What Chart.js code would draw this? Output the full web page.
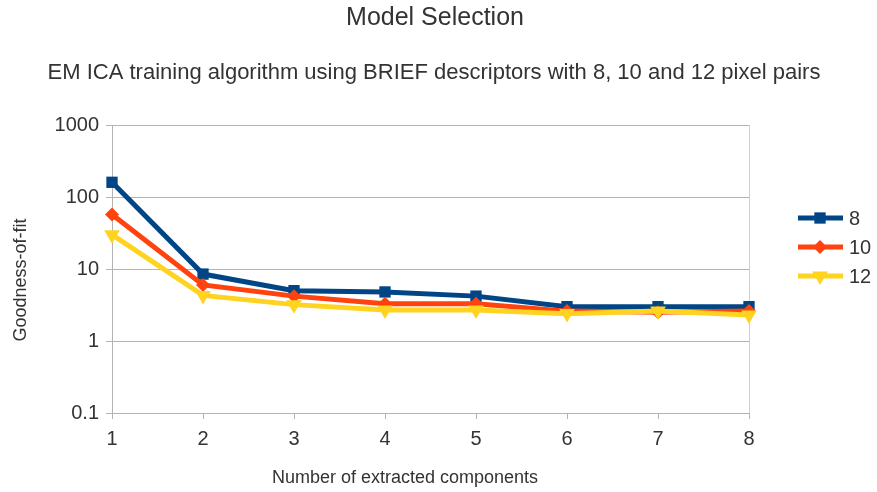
<!DOCTYPE html>
<html>
<head>
<meta charset="utf-8">
<script src="https://cdn.jsdelivr.net/npm/chart.js@4"></script>
<style>
    html, body { margin: 0; padding: 0; background: #fff; }
    #wrap { width: 877px; height: 492px; position: relative; }
</style>
</head>
<body>
<div id="wrap"><canvas id="modelChart"></canvas></div>
<script>
// Goodness-of-fit per number of extracted components
const components = ['1', '2', '3', '4', '5', '6', '7', '8'];
const pairs8 = [160, 8.5, 5.0, 4.8, 4.2, 3.0, 3.0, 3.0];
const pairs10 = [57, 6.0, 4.2, 3.3, 3.3, 2.6, 2.5, 2.6];
const pairs12 = [30, 4.3, 3.2, 2.7, 2.7, 2.4, 2.6, 2.3];
const yTicks = [0.1, 1, 10, 100, 1000];

const FONT = '"Liberation Sans", Arial, sans-serif';
const TEXT = '#333333';
const GRID = '#b3b3b3';

// Titles, axis titles and the line+marker legend on the right
const decorPlugin = {
    id: 'decor',
    afterDraw(chart) {
        const ctx = chart.ctx;
        ctx.save();
        ctx.fillStyle = TEXT;
        ctx.textAlign = 'center';
        ctx.textBaseline = 'middle';
        ctx.font = '25px ' + FONT;
        ctx.fillText('Model Selection', 435, 18);
        ctx.font = '22px ' + FONT;
        ctx.fillText('EM ICA training algorithm using BRIEF descriptors with 8, 10 and 12 pixel pairs', 434, 73);

        ctx.font = '18px ' + FONT;
        ctx.fillText('Number of extracted components', 405, 478);
        ctx.save();
        ctx.translate(21, 280);
        ctx.rotate(-Math.PI / 2);
        ctx.fillText('Goodness-of-fit', 0, 0);
        ctx.restore();

        const rows = [218, 247, 276];
        chart.data.datasets.forEach((ds, i) => {
            const y = rows[i];
            ctx.strokeStyle = ds.borderColor;
            ctx.lineWidth = 5;
            ctx.beginPath();
            ctx.moveTo(798, y);
            ctx.lineTo(843, y);
            ctx.stroke();
            ctx.fillStyle = ds.borderColor;
            Chart.helpers.drawPoint(ctx, {
                pointStyle: ds.pointStyle,
                radius: ds.pointRadius,
                rotation: ds.pointRotation || 0
            }, 820, y);
            ctx.fillStyle = TEXT;
            ctx.textAlign = 'left';
            ctx.font = '20px ' + FONT;
            ctx.fillText(ds.label, 849, y + 1);
        });
        ctx.restore();
    }
};

new Chart(document.getElementById('modelChart'), {
    type: 'line',
    data: {
        labels: components,
        datasets: [
            {
                label: '8', data: pairs8, order: 3,
                borderColor: '#004586', backgroundColor: '#004586',
                borderWidth: 5, pointStyle: 'rect', pointRadius: 8,
                pointBorderWidth: 0
            },
            {
                label: '10', data: pairs10, order: 2,
                borderColor: '#ff420e', backgroundColor: '#ff420e',
                borderWidth: 5, pointStyle: 'rectRot', pointRadius: 7,
                pointBorderWidth: 0
            },
            {
                label: '12', data: pairs12, order: 1,
                borderColor: '#ffd320', backgroundColor: '#ffd320',
                borderWidth: 5, pointStyle: 'triangle', pointRotation: 180, pointRadius: 9,
                pointBorderWidth: 0
            }
        ]
    },
    options: {
        responsive: true,
        maintainAspectRatio: false,
        animation: false,
        layout: { padding: { top: 125, left: 0, right: 128, bottom: 0 } },
        plugins: {
            legend: { display: false },
            title: { display: false },
            tooltip: { enabled: false }
        },
        scales: {
            x: {
                offset: false,
                grid: {
                    color: ctx => (ctx.index === components.length - 1 ? '#d0d0d0' : 'transparent'),
                    tickColor: GRID,
                    tickLength: 6,
                    drawOnChartArea: true
                },
                border: { color: GRID, width: 1 },
                ticks: { color: TEXT, font: { family: FONT, size: 20 }, padding: 8, maxRotation: 0 },
                afterFit(scale) { scale.height = 79; }
            },
            y: {
                type: 'logarithmic',
                min: 0.1,
                max: 1000,
                afterBuildTicks(scale) {
                    scale.ticks = yTicks.map(v => ({ value: v }));
                },
                grid: { color: GRID, tickColor: GRID, tickLength: 6 },
                border: { color: GRID, width: 1 },
                ticks: {
                    color: TEXT,
                    font: { family: FONT, size: 20 },
                    padding: 7,
                    callback: v => String(v)
                },
                afterFit(scale) { scale.width = 112; }
            }
        }
    },
    plugins: [decorPlugin]
});
</script>
</body>
</html>
